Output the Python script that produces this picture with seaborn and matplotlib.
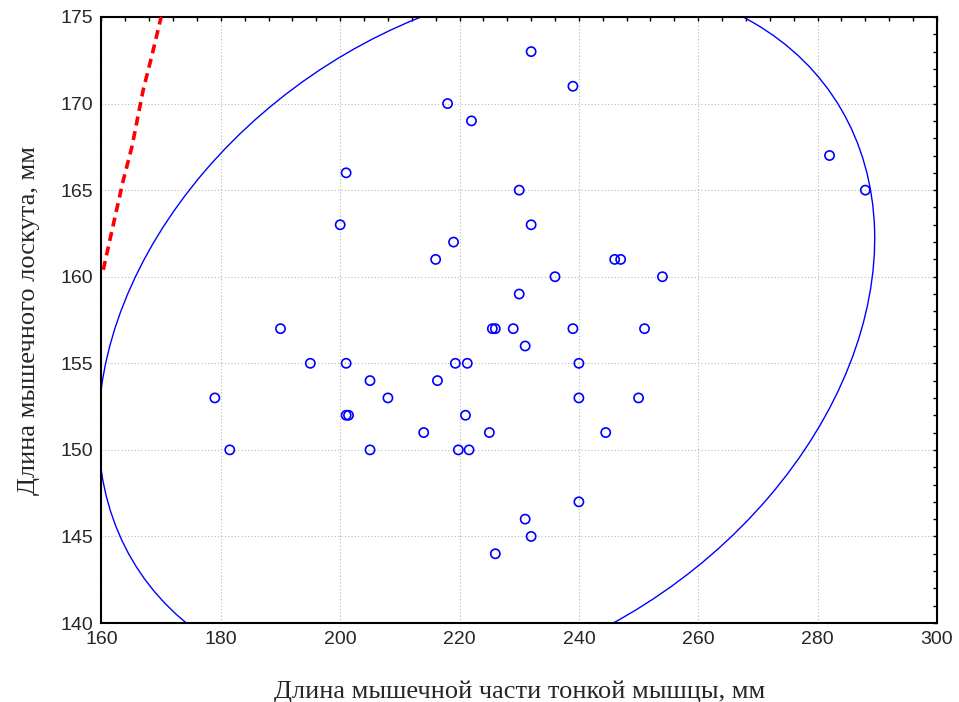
import matplotlib
matplotlib.use("Agg")
import matplotlib.pyplot as plt
from matplotlib.patches import Ellipse
from matplotlib.ticker import MultipleLocator
import seaborn as sns
import pandas as pd

# ---------------------------------------
# Data
# ---------------------------------------

thigh_len = [232, 239, 218, 222, 201, 282, 288, 230, 200, 232, 219, 216, 246, 247,
             236, 254, 230, 190, 225.5, 226, 229, 239, 251, 231, 195, 201, 219.3,
             221.3, 240, 205, 216.3, 208, 179, 240, 250, 201, 201.4, 221, 214, 225,
             244.5, 181.5, 205, 219.8, 221.6, 240, 231, 232, 226]
flap_len = [173, 171, 170, 169, 166, 167, 165, 165, 163, 163, 162, 161, 161, 161,
            160, 160, 159, 157, 157, 157, 157, 157, 157, 156, 155, 155, 155,
            155, 155, 154, 154, 153, 153, 153, 153, 152, 152, 152, 151, 151,
            151, 150, 150, 150, 150, 147, 146, 145, 144]

# red dashed line (visible part)
red_x = [160.3, 162.3, 163.6, 165.1, 167.0, 168.4, 170.0]
red_y = [160.4, 163.5, 165.5, 167.5, 170.8, 172.7, 175.0]

# ellipse
ell_center = (224.53, 156.67)
ell_width = 130.6
ell_height = 38.94
ell_angle = 5.34

x_label = "Длина мышечной части тонкой мышцы, мм"
y_label = "Длина мышечного лоскута, мм"

df = pd.DataFrame({"x": thigh_len, "y": flap_len})

# ---------------------------------------
# Plot
# ---------------------------------------

sns.set_style("white")
fig = plt.figure(figsize=(9.59, 7.02), dpi=100)
ax = fig.add_axes([0.1058, 0.1125, 0.8712, 0.8633])

blue = "#0000ff"

ax.add_patch(Ellipse(ell_center, ell_width, ell_height, angle=ell_angle,
                     fill=False, edgecolor=blue, linewidth=1.0, zorder=2))

sns.lineplot(x=red_x, y=red_y, ax=ax, color="#ff0000", linewidth=2.6,
             linestyle=(0, (2.5, 1.6)), sort=False, zorder=3)

sns.scatterplot(data=df, x="x", y="y", ax=ax, marker="o", s=44,
                facecolor="none", edgecolor=blue, linewidth=1.2, zorder=4)

ax.set_xlim(160, 300)
ax.set_ylim(140, 175)
ax.xaxis.set_major_locator(MultipleLocator(20))
ax.xaxis.set_minor_locator(MultipleLocator(4))
ax.yaxis.set_major_locator(MultipleLocator(5))
ax.yaxis.set_minor_locator(MultipleLocator(1))

ax.grid(True, which="major", color="#b8b8b8", linestyle=(0, (1, 2)), linewidth=0.8)
ax.tick_params(which="both", direction="in", top=True, right=True,
               length=3, width=1, color="black")
ax.tick_params(which="major", labelsize=14, pad=6)

for sp in ax.spines.values():
    sp.set_color("black")
    sp.set_linewidth(1.5)

for lab in ax.get_xticklabels() + ax.get_yticklabels():
    lab.set_family(["Liberation Sans Narrow", "Liberation Sans", "DejaVu Sans"])

ax.set_xlabel(x_label, family=["Liberation Serif", "DejaVu Serif"], fontsize=19, labelpad=23)
ax.set_ylabel(y_label, family=["Liberation Serif", "DejaVu Serif"], fontsize=19, labelpad=15)

fig.savefig("out.png", dpi=100)
